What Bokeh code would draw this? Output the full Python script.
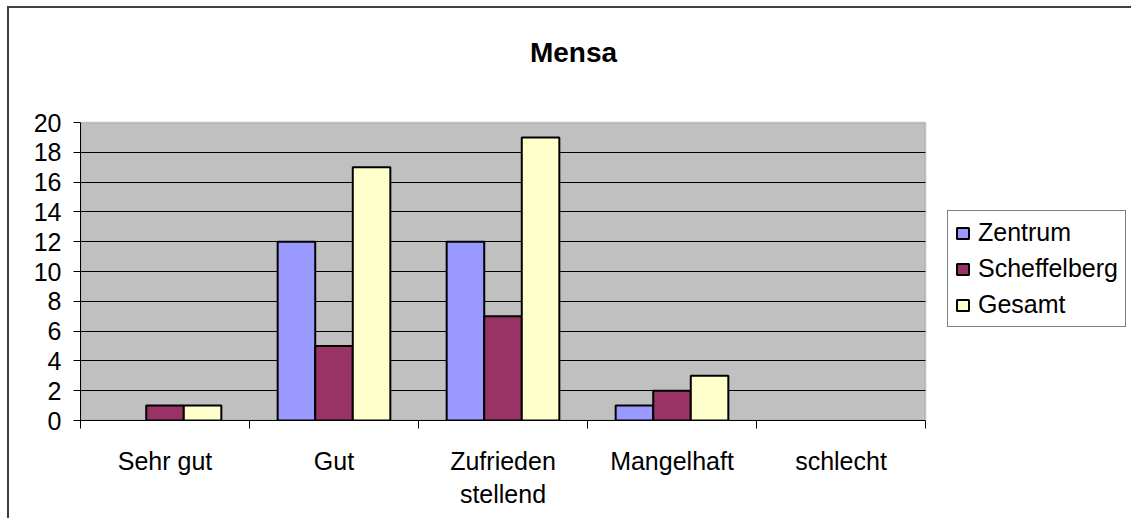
from bokeh.plotting import figure
from bokeh.models import (Range1d, FixedTicker, Legend, LegendItem, ColumnDataSource,
                          BoxAnnotation, Label)
from bokeh.embed import file_html
from bokeh.resources import INLINE

categories = ["Sehr gut", "Gut", "Zufrieden\nstellend", "Mangelhaft", "schlecht"]
zentrum = [0, 12, 12, 1, 0]
scheffelberg = [1, 5, 7, 2, 0]
gesamt = [1, 17, 19, 3, 0]
series_names = ["Zentrum", "Scheffelberg", "Gesamt"]
series_colors = ["#9999FF", "#993366", "#FFFFCC"]
y_ticks = list(range(0, 21, 2))
y_max = 20
title_text = "Mensa"

FONT = "Liberation Sans"

# layout (pixels)
W, H = 1124, 512
LEFT, BOTTOM = 71, 100
PLOT_W, PLOT_H = 845, 298
frame_w, frame_h = W - LEFT, H - BOTTOM
n = len(categories)
x_end = frame_w / (PLOT_W / n)
y_end = frame_h / (PLOT_H / y_max)

p = figure(width=W, height=H, output_backend="svg", toolbar_location=None,
           title=None,
           x_range=Range1d(0, x_end), y_range=Range1d(0, y_end),
           min_border_left=LEFT, min_border_right=0, min_border_top=0, min_border_bottom=BOTTOM)
p.styles = {"margin-left": "7px", "margin-top": "6px",
            "border-left": "2px solid #404040", "border-top": "2px solid #404040"}

p.background_fill_color = "white"
p.border_fill_color = "white"
p.outline_line_color = None

plot_area = BoxAnnotation(left=0, right=n, bottom=0, top=y_max,
                          fill_color="#C0C0C0", fill_alpha=1,
                          line_color="#808080", line_width=2, level="image")
p.add_layout(plot_area)

bar_w = 1 / 4.5
offsets = [-bar_w, 0.0, bar_w]
renderers = []
for vals, off, col in zip([zentrum, scheffelberg, gesamt], offsets, series_colors):
    xs = [i + 0.5 + off for i, v in enumerate(vals) if v > 0]
    tops = [v for v in vals if v > 0]
    src = ColumnDataSource(dict(x=xs, top=tops))
    r = p.vbar(x="x", top="top", bottom=0, width=bar_w, source=src,
               fill_color=col, line_color="black", line_width=2)
    renderers.append(r)

# axes
centers = [i + 0.5 for i in range(n)]
bounds = list(range(n + 1))
p.xaxis.ticker = FixedTicker(ticks=centers, minor_ticks=bounds)
p.xaxis.bounds = (0, n)
p.xaxis.major_label_overrides = {c: lab for c, lab in zip(centers, categories)}
p.xaxis.major_tick_out = 0
p.xaxis.major_tick_in = 0
p.xaxis.minor_tick_out = 8
p.xaxis.minor_tick_in = 0
p.xaxis.minor_tick_line_color = "black"
p.xaxis.axis_line_color = "black"
p.xaxis.major_label_standoff = 18
p.xaxis.major_label_text_font = FONT
p.xaxis.major_label_text_font_size = "25px"
p.xaxis.major_label_text_color = "black"
p.xaxis.major_label_text_align = "center"

p.yaxis.ticker = FixedTicker(ticks=y_ticks)
p.yaxis.bounds = (0, y_max)
p.yaxis.major_tick_out = 7
p.yaxis.major_tick_in = 0
p.yaxis.minor_tick_line_color = None
p.yaxis.axis_line_color = "black"
p.yaxis.major_tick_line_color = "black"
p.yaxis.major_label_standoff = 12
p.yaxis.major_label_text_font = FONT
p.yaxis.major_label_text_font_size = "25px"
p.yaxis.major_label_text_color = "black"

p.xgrid.grid_line_color = None
p.ygrid.ticker = FixedTicker(ticks=[t for t in y_ticks if 0 < t < y_max])
p.ygrid.cross_bounds = (0, n)
p.ygrid.grid_line_color = "black"
p.ygrid.grid_line_width = 1

title = Label(x=493, y=368, x_units="screen", y_units="screen", text=title_text,
              text_align="center", text_baseline="alphabetic",
              text_font=FONT, text_font_size="28px", text_font_style="bold",
              text_color="black")
p.add_layout(title)

legend = Legend(items=[LegendItem(label=s, renderers=[r]) for s, r in zip(series_names, renderers)],
                location=(867, 93))
legend.border_line_color = "black"
legend.border_line_width = 1
legend.background_fill_color = "white"
legend.background_fill_alpha = 1
legend.label_text_font = FONT
legend.label_text_font_size = "25px"
legend.label_text_color = "black"
legend.glyph_width = 15
legend.glyph_height = 14
legend.label_standoff = 8
legend.label_height = 29
legend.spacing = 7
legend.padding = 7
legend.margin = 0
p.add_layout(legend, "center")

open("out.html", "w").write(file_html(p, INLINE))
